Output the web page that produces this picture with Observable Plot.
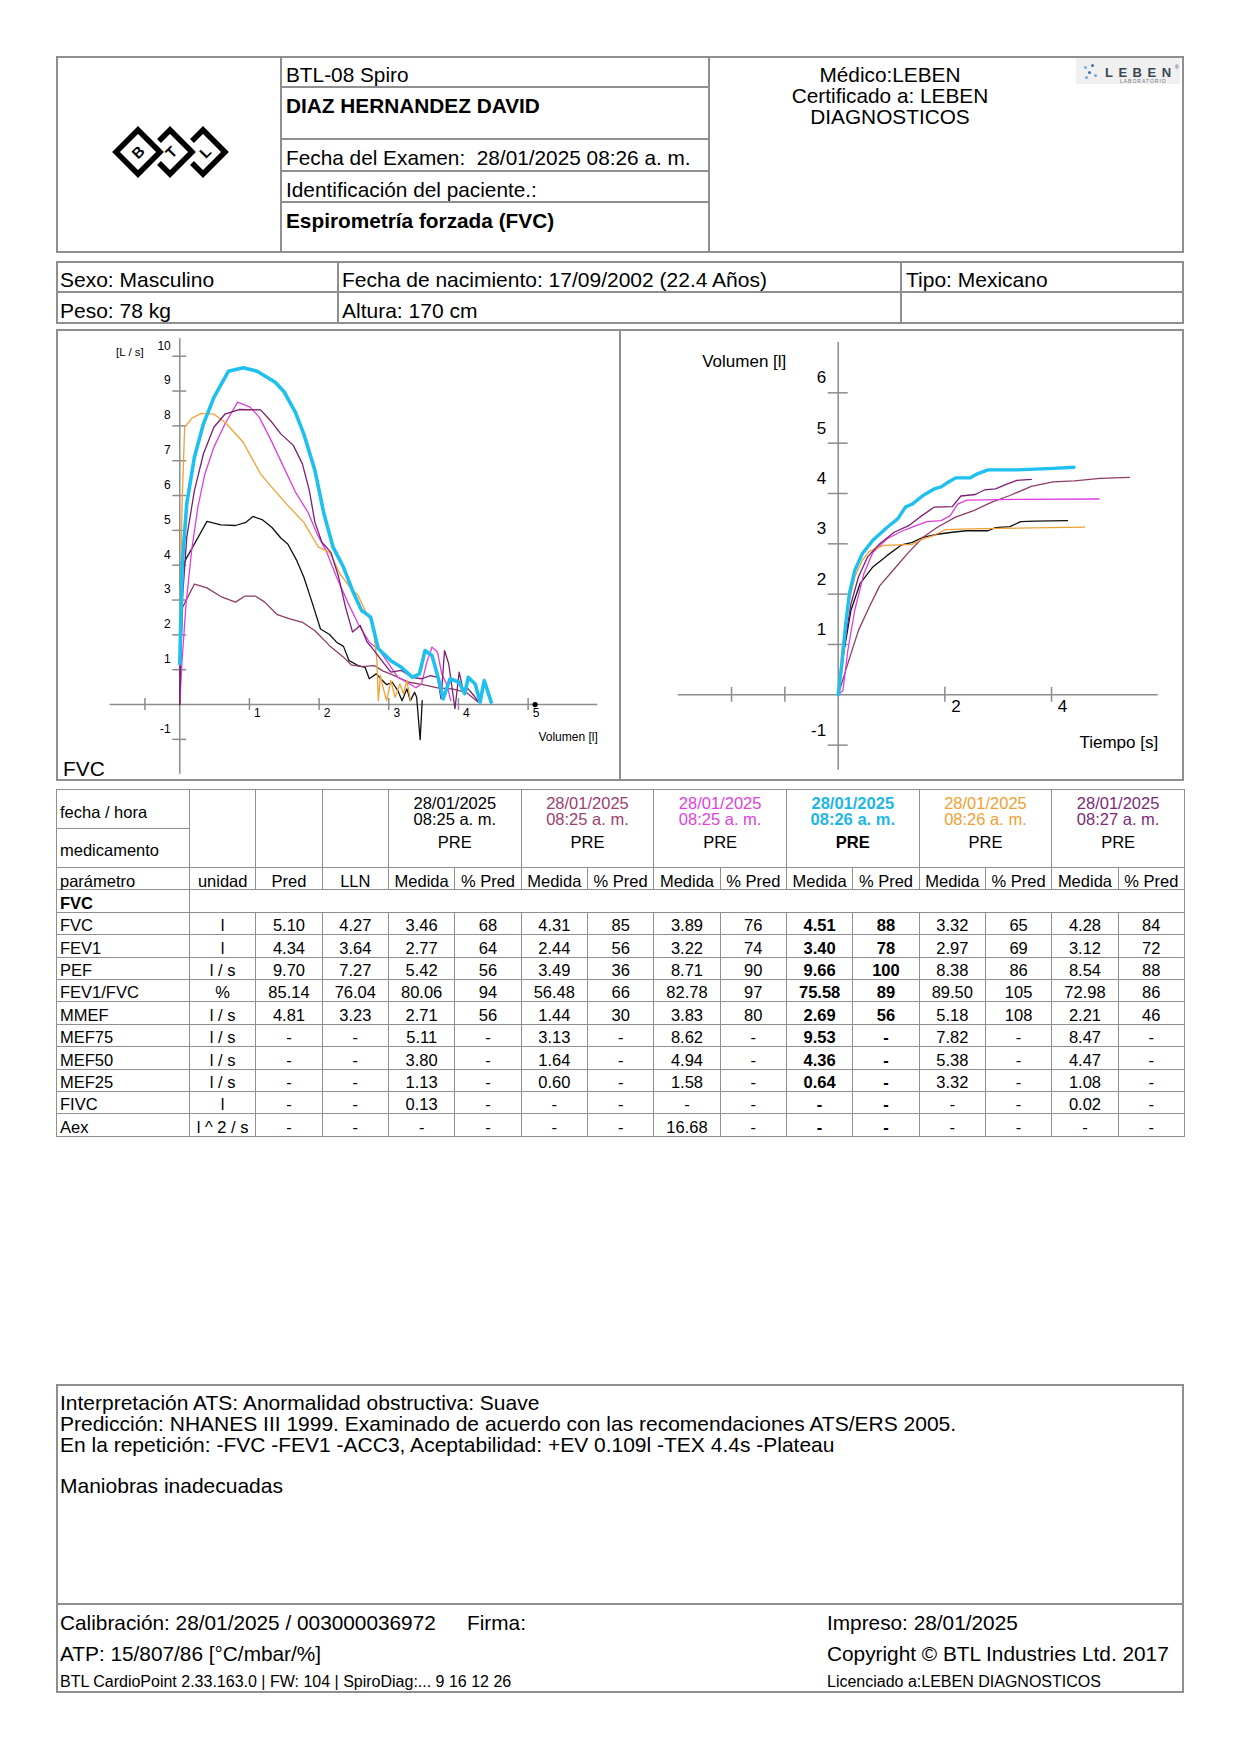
<!DOCTYPE html>
<html lang="es"><head><meta charset="utf-8">
<script src="https://cdn.jsdelivr.net/npm/d3@7"></script>
<script src="https://cdn.jsdelivr.net/npm/@observablehq/plot@0.6"></script>
<style>
html,body{margin:0;padding:0;background:#fff;}
body{font-family:"Liberation Sans",Arial,Helvetica,sans-serif;color:#000;}
#page{position:relative;width:1240px;height:1755px;overflow:hidden;}
.a{position:absolute;}
.box{position:absolute;border:2px solid #8f8f8f;box-sizing:border-box;}
.h{position:absolute;height:0;border-top:2px solid #8f8f8f;}
.v{position:absolute;width:0;border-left:2px solid #8f8f8f;}
.t{position:absolute;white-space:nowrap;font-size:20.8px;line-height:24px;}
.b{font-weight:bold;}
#dt{position:absolute;left:56px;top:789px;width:1128px;border-collapse:collapse;table-layout:fixed;font-size:16.5px;}
#dt td{border:1.5px solid #8f8f8f;padding:0 2px;text-align:center;white-space:nowrap;line-height:19px;}
#dt td.l{text-align:left;padding-left:3px;}
#dt tr.r{height:22.4px;}
#dt tr.r td{vertical-align:top;padding-top:5.5px;padding-bottom:0;line-height:15px;}
</style></head><body><div id="page">

<!-- BTL logo -->
<svg class="a" style="left:104px;top:120px" width="132" height="66" viewBox="0 0 132 66">
  <g fill="none" stroke="#000" stroke-width="5.5" stroke-linejoin="miter" stroke-linecap="butt">
    <polygon points="34,10 56,32 34,54 12,32"/>
    <path d="M55,21 L66,10 L88,32 L66,54 L55,43"/>
    <path d="M88,21 L99,10 L121,32 L99,54 L88,43"/>
  </g>
  <g font-family="Liberation Sans, Arial" font-weight="bold" font-size="15" text-anchor="middle" dominant-baseline="central">
    <text x="34" y="32" transform="rotate(-45 34 32)">B</text>
    <text x="67" y="32" transform="rotate(-45 67 32)">T</text>
    <text x="101" y="32" transform="rotate(-45 101 32)">L</text>
  </g>
</svg>

<div class="t" style="left:286px;top:63px">BTL-08 Spiro</div>
<div class="t b" style="left:286px;top:94px">DIAZ HERNANDEZ DAVID</div>
<div class="t" style="left:286px;top:146px">Fecha del Examen:&nbsp; 28/01/2025 08:26 a. m.</div>
<div class="t" style="left:286px;top:178px">Identificación del paciente.:</div>
<div class="t b" style="left:286px;top:209px">Espirometría forzada (FVC)</div>
<div class="a" style="left:710px;top:64px;width:360px;text-align:center;font-size:20.8px;line-height:21px">Médico:LEBEN<br>Certificado a: LEBEN<br>DIAGNOSTICOS</div>

<!-- LEBEN logo -->
<div class="a" style="left:1076px;top:58px;width:104px;height:26px;background:#f0f0f0;"></div>
<div class="a" style="left:1084px;top:66px;width:3px;height:3px;border-radius:2px;background:#7aa6d8"></div>
<div class="a" style="left:1091px;top:64px;width:3px;height:3px;border-radius:2px;background:#3d6fb0"></div>
<div class="a" style="left:1088px;top:71px;width:3px;height:3px;border-radius:2px;background:#3d6fb0"></div>
<div class="a" style="left:1094px;top:74px;width:3px;height:3px;border-radius:2px;background:#7aa6d8"></div>
<div class="a" style="left:1085px;top:76px;width:3px;height:3px;border-radius:2px;background:#7aa6d8"></div>
<div class="a" style="left:1105px;top:65px;font-size:13px;line-height:16px;font-weight:bold;letter-spacing:5.5px;color:#3a4654;">LEBEN</div>
<div class="a" style="left:1175px;top:64px;font-size:5px;line-height:6px;color:#3a4654;">®</div>
<div class="a" style="left:1120px;top:78px;font-size:5px;line-height:6px;letter-spacing:1px;color:#6a7480;">LABORATORIO</div>

<div class="box" style="left:56px;top:56px;width:1128px;height:197px"></div>
<div class="v" style="left:280px;top:56px;height:197px"></div>
<div class="v" style="left:708px;top:56px;height:197px"></div>
<div class="h" style="left:281px;top:86px;width:428px"></div>
<div class="h" style="left:281px;top:138px;width:428px"></div>
<div class="h" style="left:281px;top:170px;width:428px"></div>
<div class="h" style="left:281px;top:201px;width:428px"></div>

<!-- patient info -->
<div class="box" style="left:56px;top:261px;width:1128px;height:63px"></div>
<div class="h" style="left:56px;top:291px;width:1128px"></div>
<div class="v" style="left:337px;top:261px;height:63px"></div>
<div class="v" style="left:900px;top:261px;height:63px"></div>
<div class="t" style="left:60px;top:268px;font-size:21px">Sexo: Masculino</div>
<div class="t" style="left:60px;top:299px;font-size:21px">Peso: 78 kg</div>
<div class="t" style="left:342px;top:268px;font-size:21px">Fecha de nacimiento: 17/09/2002 (22.4 Años)</div>
<div class="t" style="left:342px;top:299px;font-size:21px">Altura: 170 cm</div>
<div class="t" style="left:906px;top:268px;font-size:21px">Tipo: Mexicano</div>

<!-- charts -->
<div id="fv" class="a" style="left:56px;top:329px;width:564px;height:452px"></div>
<div id="vt" class="a" style="left:620px;top:329px;width:563px;height:452px"></div>
<div class="box" style="left:56px;top:329px;width:1128px;height:452px"></div>
<div class="v" style="left:619px;top:329px;height:452px"></div>

<table id="dt"></table>

<!-- footer -->
<div class="box" style="left:56px;top:1384px;width:1128px;height:309px"></div>
<div class="h" style="left:56px;top:1603px;width:1128px"></div>
<div class="a" style="left:60px;top:1393px;font-size:21px;line-height:20.75px;white-space:pre">Interpretación ATS: Anormalidad obstructiva: Suave
Predicción: NHANES III 1999. Examinado de acuerdo con las recomendaciones ATS/ERS 2005.
En la repetición: -FVC -FEV1 -ACC3, Aceptabilidad: +EV 0.109l -TEX 4.4s -Plateau

Maniobras inadecuadas</div>
<div class="t" style="left:60px;top:1611px">Calibración: 28/01/2025 / 003000036972</div>
<div class="t" style="left:467px;top:1611px">Firma:</div>
<div class="t" style="left:827px;top:1611px">Impreso: 28/01/2025</div>
<div class="t" style="left:60px;top:1642px">ATP: 15/807/86 [°C/mbar/%]</div>
<div class="t" style="left:827px;top:1642px">Copyright © BTL Industries Ltd. 2017</div>
<div class="t" style="left:60px;top:1672px;font-size:16px;line-height:20px">BTL CardioPoint 2.33.163.0 | FW: 104 | SpiroDiag:... 9 16 12 26</div>
<div class="t" style="left:827px;top:1672px;font-size:16px;line-height:20px">Licenciado a:LEBEN DIAGNOSTICOS</div>
</div>

<script>
// ---------- table data ----------
const params = ["FVC","FEV1","PEF","FEV1/FVC","MMEF","MEF75","MEF50","MEF25","FIVC","Aex"];
const units = ["l","l","l / s","%","l / s","l / s","l / s","l / s","l","l ^ 2 / s"];
const predVals = [5.10, 4.34, 9.70, 85.14, 4.81, null, null, null, null, null];
const llnVals = [4.27, 3.64, 7.27, 76.04, 3.23, null, null, null, null, null];
const trialDates = ["28/01/2025","28/01/2025","28/01/2025","28/01/2025","28/01/2025","28/01/2025"];
const trialTimes = ["08:25 a. m.","08:25 a. m.","08:25 a. m.","08:26 a. m.","08:26 a. m.","08:27 a. m."];
const trialMeds = ["PRE","PRE","PRE","PRE","PRE","PRE"];
const t1Medida = [3.46, 2.77, 5.42, 80.06, 2.71, 5.11, 3.80, 1.13, 0.13, null];
const t1Pct    = [68, 64, 56, 94, 56, null, null, null, null, null];
const t2Medida = [4.31, 2.44, 3.49, 56.48, 1.44, 3.13, 1.64, 0.60, null, null];
const t2Pct    = [85, 56, 36, 66, 30, null, null, null, null, null];
const t3Medida = [3.89, 3.22, 8.71, 82.78, 3.83, 8.62, 4.94, 1.58, null, 16.68];
const t3Pct    = [76, 74, 90, 97, 80, null, null, null, null, null];
const t4Medida = [4.51, 3.40, 9.66, 75.58, 2.69, 9.53, 4.36, 0.64, null, null];
const t4Pct    = [88, 78, 100, 89, 56, null, null, null, null, null];
const t5Medida = [3.32, 2.97, 8.38, 89.50, 5.18, 7.82, 5.38, 3.32, null, null];
const t5Pct    = [65, 69, 86, 105, 108, null, null, null, null, null];
const t6Medida = [4.28, 3.12, 8.54, 72.98, 2.21, 8.47, 4.47, 1.08, 0.02, null];
const t6Pct    = [84, 72, 88, 86, 46, null, null, null, null, null];
const bestTrial = 3;

// ---------- flow-volume curves [volume l, flow l/s] ----------
const fvTrial1 = [[0,0],[0.01,1.17],[0.02,3.85],[0.09,4.18],[0.21,4.61],[0.39,5.26],[0.59,5.16],[0.80,5.14],[0.95,5.23],[1.05,5.40],[1.19,5.30],[1.32,5.09],[1.45,4.78],[1.55,4.61],[1.68,4.13],[1.78,3.66],[1.89,2.99],[2.02,2.17],[2.15,2.01],[2.25,1.79],[2.35,1.67],[2.43,1.26],[2.56,1.12],[2.66,1.07],[2.72,0.74],[2.82,0.88],[2.90,0.71],[2.97,0.57],[3.05,0.64],[3.13,0.40],[3.19,0.11],[3.26,0.45],[3.31,0.11],[3.37,0.35],[3.40,0.21],[3.45,-1.01],[3.48,0.11]];
const fvTrial2 = [[0,0.8],[0.04,2.79],[0.21,3.46],[0.39,3.35],[0.59,3.10],[0.80,2.94],[0.93,3.11],[1.09,3.11],[1.22,2.94],[1.40,2.58],[1.58,2.46],[1.76,2.36],[1.94,2.12],[2.15,1.69],[2.35,1.36],[2.46,1.14],[2.61,1.09],[2.79,1.12],[2.92,0.96],[3.08,0.83],[3.29,0.64],[3.49,0.57],[3.70,0.48],[3.91,0.45],[4.11,0.35],[4.28,0.07]];
const fvTrial3 = [[0,0],[0.03,1.17],[0.09,2.89],[0.17,4.42],[0.26,5.67],[0.36,6.62],[0.49,7.39],[0.65,8.06],[0.83,8.68],[1.01,8.54],[1.14,8.25],[1.29,7.67],[1.47,6.91],[1.66,6.10],[1.84,5.52],[1.97,4.90],[2.10,4.42],[2.25,3.66],[2.41,2.94],[2.56,2.32],[2.72,1.79],[2.87,1.55],[3.00,1.17],[3.13,0.78],[3.26,0.64],[3.39,0.48],[3.47,0.59],[3.54,1.17],[3.62,1.65],[3.70,1.50],[3.76,0.88],[3.83,0.59],[3.89,0.11]];
const fvTrial4 = [[0,1.17],[0.036,4.04],[0.10,5.76],[0.21,7.10],[0.34,8.06],[0.49,8.82],[0.70,9.57],[0.91,9.67],[1.11,9.57],[1.37,9.25],[1.50,8.97],[1.66,8.39],[1.78,7.77],[1.94,6.72],[2.07,5.47],[2.20,4.52],[2.35,3.94],[2.48,3.27],[2.61,2.70],[2.74,2.51],[2.85,1.60],[3.03,1.26],[3.18,1.07],[3.34,0.78],[3.44,0.88],[3.52,1.55],[3.62,1.41],[3.72,0.69],[3.78,0.16],[3.88,0.74],[4.01,0.64],[4.09,0.31],[4.14,0.78],[4.24,0.59],[4.31,0.07],[4.37,0.69],[4.47,0.07]];
const fvTrial5 = [[0,2.5],[0.036,5.95],[0.07,7.96],[0.18,8.23],[0.31,8.36],[0.49,8.34],[0.67,8.06],[0.91,7.53],[1.16,6.62],[1.32,6.24],[1.53,5.76],[1.78,5.23],[1.99,4.52],[2.15,4.37],[2.30,3.75],[2.46,3.32],[2.56,3.13],[2.66,2.70],[2.77,2.32],[2.83,1.26],[2.85,0.11],[2.88,0.83],[2.93,0.40],[2.97,0.11],[3.03,0.69],[3.09,0.21],[3.16,0.59],[3.21,0.31],[3.26,0.69],[3.31,0.11]];
const fvTrial6 = [[0,0],[0.01,1.17],[0.04,3.08],[0.10,4.80],[0.21,6.14],[0.34,7.20],[0.49,7.96],[0.65,8.34],[0.85,8.47],[1.16,8.46],[1.32,8.11],[1.45,7.77],[1.63,7.44],[1.76,6.91],[1.86,6.14],[1.94,5.23],[2.04,4.66],[2.17,4.37],[2.28,3.66],[2.38,2.79],[2.48,2.08],[2.59,2.27],[2.69,1.79],[2.79,1.55],[2.90,1.26],[3.03,0.93],[3.18,0.98],[3.34,0.78],[3.47,0.74],[3.60,0.83],[3.70,0.78],[3.75,0.16],[3.80,1.55],[3.86,1.17],[3.95,-0.12],[4.01,0.93],[4.07,0.40],[4.14,0.45],[4.22,0.26],[4.28,0.10]];
const predFVC = [5.10];

// ---------- volume-time curves [time s, volume l] ----------
const vtTrial1 = [[0,0],[0.11,0.88],[0.24,1.68],[0.41,2.21],[0.65,2.54],[0.92,2.77],[1.19,2.98],[1.39,3.03],[1.59,3.13],[1.86,3.19],[2.14,3.23],[2.41,3.26],[2.81,3.26],[2.95,3.32],[3.22,3.34],[3.42,3.44],[3.69,3.45],[4.30,3.46]];
const vtTrial2 = [[0,0],[0.18,0.62],[0.38,1.28],[0.58,1.74],[0.78,2.17],[1.05,2.50],[1.32,2.83],[1.59,3.13],[1.86,3.33],[2.20,3.53],[2.54,3.66],[2.88,3.83],[3.22,3.96],[3.62,4.14],[4.03,4.23],[4.43,4.25],[4.91,4.30],[5.46,4.32]];
const vtTrial3 = [[0,0],[0.09,0.09],[0.18,0.88],[0.31,1.68],[0.48,2.40],[0.65,2.83],[0.92,3.10],[1.19,3.25],[1.39,3.33],[1.66,3.44],[1.93,3.46],[2.10,3.56],[2.24,3.79],[2.41,3.87],[3.01,3.88],[4.89,3.89]];
const vtTrial4 = [[0,0],[0.07,0.62],[0.14,1.41],[0.21,2.01],[0.31,2.47],[0.45,2.80],[0.65,3.07],[0.92,3.33],[1.12,3.50],[1.26,3.73],[1.39,3.79],[1.59,3.96],[1.80,4.09],[1.93,4.13],[2.07,4.23],[2.20,4.31],[2.47,4.31],[2.61,4.39],[2.81,4.47],[3.35,4.47],[4.03,4.50],[4.42,4.52]];
const vtTrial5 = [[0,0],[0.07,0.88],[0.18,1.74],[0.31,2.34],[0.45,2.67],[0.58,2.85],[0.85,2.97],[1.39,2.99],[1.59,3.10],[1.80,3.17],[2.00,3.28],[2.68,3.30],[4.62,3.33]];
const vtTrial6 = [[0,0],[0.11,0.95],[0.24,1.81],[0.38,2.34],[0.55,2.74],[0.78,3.00],[1.05,3.23],[1.32,3.36],[1.53,3.53],[1.80,3.73],[2.14,3.74],[2.30,3.95],[2.57,3.98],[2.74,4.07],[2.95,4.09],[3.15,4.18],[3.35,4.26],[3.62,4.28]];

// ---------- axes / ticks ----------
const fvXDomain = [-1, 6], fvYDomain = [-2, 10.5];
const fvXTicks = [-0.5, 1, 2, 3, 4, 5];
const fvXLabels = [1, 2, 3, 4, 5];
const fvYTicks = [-1, 1, 2, 3, 4, 5, 6, 7, 8, 9, 10];
const vtXDomain = [-3, 6], vtYDomain = [-1.5, 7];
const vtXTicks = [-2, -1, 2, 4];
const vtXLabels = [2, 4];
const vtYTicks = [-1, 1, 2, 3, 4, 5, 6];

// ---------- styles ----------
const lineColors = ["#111111", "#8e3b66", "#de3ede", "#1ec0f0", "#f2a033", "#7a1f72"];
const headColors = ["#000000", "#9b4070", "#e040e0", "#1db6e6", "#f0a030", "#7d2a78"];
const axisColor = "#8c8c8c";
const font = "'Liberation Sans', Arial, sans-serif";

// ---------- table ----------
const meds = [t1Medida, t2Medida, t3Medida, t4Medida, t5Medida, t6Medida];
const pcts = [t1Pct, t2Pct, t3Pct, t4Pct, t5Pct, t6Pct];
const fmtM = v => v == null ? "-" : v.toFixed(2);
const fmtP = v => v == null ? "-" : String(v);
let html = '<colgroup><col style="width:133px">' + '<col style="width:66.33px">'.repeat(15) + '</colgroup>';
html += '<tr style="height:39px"><td class="l" style="padding-top:6px">fecha / hora</td><td rowspan="2"></td><td rowspan="2"></td><td rowspan="2"></td>';
trialDates.forEach((d, i) => {
  html += `<td colspan="2" rowspan="2" style="vertical-align:top;padding-top:5px;${i === bestTrial ? "font-weight:bold;" : ""}"><div style="color:${headColors[i]};line-height:16px">${d}<br>${trialTimes[i]}</div><div style="margin-top:7px;line-height:16px">${trialMeds[i]}</div></td>`;
});
html += '</tr><tr style="height:39px"><td class="l" style="padding-top:4px">medicamento</td></tr>';
html += '<tr class="r"><td class="l">parámetro</td><td>unidad</td><td>Pred</td><td>LLN</td>' + '<td>Medida</td><td>% Pred</td>'.repeat(6) + '</tr>';
html += '<tr class="r"><td class="l"><b>FVC</b></td><td colspan="15"></td></tr>';
params.forEach((p, r) => {
  html += `<tr class="r"><td class="l">${p}</td><td>${units[r]}</td><td>${fmtM(predVals[r])}</td><td>${fmtM(llnVals[r])}</td>`;
  for (let i = 0; i < 6; i++) {
    const st = i === bestTrial ? ' style="font-weight:bold"' : '';
    html += `<td${st}>${fmtM(meds[i][r])}</td><td${st}>${fmtP(pcts[i][r])}</td>`;
  }
  html += '</tr>';
});
document.getElementById("dt").innerHTML = html;

// ---------- flow-volume chart ----------
const fvSeries = [fvTrial1, fvTrial2, fvTrial3, fvTrial5, fvTrial6, fvTrial4];
const fvIdx = [0, 1, 2, 4, 5, 3];
const fv = Plot.plot({
  width: 564, height: 452,
  marginLeft: 53.6, marginRight: 22.7, marginTop: 9.3, marginBottom: 7.3,
  x: {domain: fvXDomain, axis: null},
  y: {domain: fvYDomain, axis: null},
  style: {background: "transparent", fontFamily: font, color: "#000", overflow: "visible"},
  marks: [
    Plot.ruleY([0], {stroke: axisColor, strokeWidth: 1.5}),
    Plot.ruleX([0], {stroke: axisColor, strokeWidth: 1.5}),
    Plot.ruleX(fvXTicks, {x: d => d, y1: 0, y2: 0, insetTop: -6, insetBottom: -6, stroke: axisColor, strokeWidth: 1.5}),
    Plot.ruleY(fvYTicks, {y: d => d, x1: 0, x2: 0, insetLeft: -7, insetRight: -7, stroke: axisColor, strokeWidth: 1.5}),
    Plot.text(fvXLabels, {x: d => d, y: 0, text: d => String(d), dx: 8, dy: 9, fontSize: 12, fill: "#000"}),
    Plot.text(fvYTicks, {x: 0, y: d => d, text: d => String(d), dx: -9, dy: -10.5, textAnchor: "end", fontSize: 12, fill: "#000"}),
    Plot.text(["[L / s]"], {text: d => d, frameAnchor: "top-left", lineAnchor: "middle", dx: 6, dy: 14, textAnchor: "start", fontSize: 11.5, fill: "#000"}),
    Plot.text(["Volumen [l]"], {text: d => d, frameAnchor: "bottom-right", lineAnchor: "middle", dy: -37, textAnchor: "end", fontSize: 12, fill: "#000"}),
    Plot.text(["FVC"], {text: d => d, frameAnchor: "bottom-left", lineAnchor: "middle", dx: -47, dy: -5, textAnchor: "start", fontSize: 20.8, fill: "#000"}),
    ...fvSeries.map((s, k) => Plot.line(s, {x: d => d[0], y: d => d[1], stroke: lineColors[fvIdx[k]], strokeWidth: fvIdx[k] === bestTrial ? 3.6 : 1.3, strokeLinejoin: "round"})),
    Plot.dot(predFVC, {x: d => d, y: 0, r: 2.6, fill: "#000", stroke: "none"})
  ]
});
document.getElementById("fv").appendChild(fv);

// ---------- volume-time chart ----------
const vtSeries = [vtTrial1, vtTrial2, vtTrial3, vtTrial5, vtTrial6, vtTrial4];
const vt = Plot.plot({
  width: 563, height: 452,
  marginLeft: 57.7, marginRight: 25.3, marginTop: 13, marginBottom: 11.2,
  x: {domain: vtXDomain, axis: null},
  y: {domain: vtYDomain, axis: null},
  style: {background: "transparent", fontFamily: font, color: "#000", overflow: "visible"},
  marks: [
    Plot.ruleY([0], {stroke: axisColor, strokeWidth: 1.5}),
    Plot.ruleX([0], {stroke: axisColor, strokeWidth: 1.5}),
    Plot.ruleX(vtXTicks, {x: d => d, y1: 0, y2: 0, insetTop: -7.5, insetBottom: -7.5, stroke: axisColor, strokeWidth: 1.5}),
    Plot.ruleY(vtYTicks, {y: d => d, x1: 0, x2: 0, insetLeft: -10, insetRight: -10, stroke: axisColor, strokeWidth: 1.5}),
    Plot.text(vtXLabels, {x: d => d, y: 0, text: d => String(d), dx: 11, dy: 12, fontSize: 17, fill: "#000"}),
    Plot.text(vtYTicks, {x: 0, y: d => d, text: d => String(d), dx: -12, dy: -15, textAnchor: "end", fontSize: 17, fill: "#000"}),
    Plot.text(["Volumen [l]"], {text: d => d, frameAnchor: "top-left", lineAnchor: "middle", dx: 24, dy: 18.7, textAnchor: "start", fontSize: 17, fill: "#000"}),
    Plot.text(["Tiempo [s]"], {text: d => d, frameAnchor: "bottom-right", lineAnchor: "middle", dy: -28, textAnchor: "end", fontSize: 17, fill: "#000"}),
    ...vtSeries.map((s, k) => Plot.line(s, {x: d => d[0], y: d => d[1], stroke: lineColors[fvIdx[k]], strokeWidth: fvIdx[k] === bestTrial ? 3.4 : 1.3, strokeLinejoin: "round"}))
  ]
});
document.getElementById("vt").appendChild(vt);
</script>
</body></html>
